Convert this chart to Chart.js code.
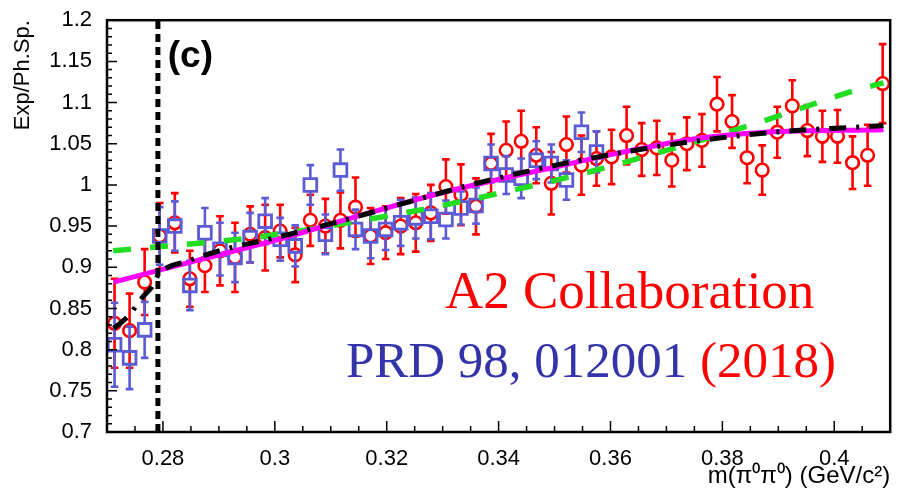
<!DOCTYPE html>
<html>
<head>
<meta charset="utf-8">
<title>Exp/Ph.Sp. vs m(pi0 pi0)</title>
<script src="https://cdn.jsdelivr.net/npm/chart.js@4.4.1/dist/chart.umd.min.js"></script>
<style>
  body { margin: 0; background: #fff; }
  #wrap { width: 902px; height: 493px; }
</style>
</head>
<body>
<div id="wrap"><canvas id="ratioChart" width="902" height="493"></canvas></div>
<script>
// ======================================
// DATA (panel c)
// ======================================
const massBins = [
    0.27135, 0.27404, 0.27673, 0.27942, 0.28212, 0.28481, 0.28750, 0.29019, 0.29288, 0.29558,
    0.29827, 0.30096, 0.30365, 0.30635, 0.30904, 0.31173, 0.31442, 0.31712, 0.31981, 0.32250,
    0.32519, 0.32788, 0.33058, 0.33327, 0.33596, 0.33865, 0.34135, 0.34404, 0.34673, 0.34942,
    0.35212, 0.35481, 0.35750, 0.36019, 0.36288, 0.36558, 0.36827, 0.37096, 0.37365, 0.37635,
    0.37904, 0.38173, 0.38442, 0.38712, 0.38981, 0.39250, 0.39519, 0.39788, 0.40058, 0.40327,
    0.40596, 0.40865
];

// red open circles
const redRatio = [
    0.832, 0.823, 0.882, 0.938, 0.954, 0.886, 0.902, 0.920, 0.912, 0.940,
    0.936, 0.944, 0.915, 0.957, 0.950, 0.957, 0.973, 0.938, 0.942, 0.950,
    0.954, 0.966, 0.998, 0.988, 0.974, 1.026, 1.042, 1.053, 1.036, 1.002,
    1.049, 1.024, 1.032, 1.034, 1.060, 1.043, 1.045, 1.030, 1.050, 1.054,
    1.098, 1.077, 1.033, 1.018, 1.064, 1.096, 1.066, 1.059, 1.059, 1.027,
    1.036, 1.123
];
const redErr = [
    0.054, 0.045, 0.040, 0.040, 0.036, 0.034, 0.032, 0.042, 0.042, 0.034,
    0.040, 0.032, 0.033, 0.031, 0.033, 0.034, 0.036, 0.034, 0.032, 0.034,
    0.035, 0.034, 0.033, 0.037, 0.034, 0.036, 0.035, 0.037, 0.034, 0.038,
    0.034, 0.036, 0.033, 0.033, 0.035, 0.032, 0.033, 0.032, 0.032, 0.032,
    0.033, 0.032, 0.031, 0.030, 0.031, 0.031, 0.031, 0.031, 0.032, 0.032,
    0.037, 0.048
];

// blue open squares (first 33 bins only)
const blueRatio = [
    0.806, 0.790, 0.824, 0.938, 0.950, 0.878, 0.942, 0.922, 0.912, 0.936,
    0.956, 0.934, 0.926, 1.000, 0.940, 1.018, 0.946, 0.938, 0.946, 0.954,
    0.960, 0.962, 0.958, 0.972, 0.975, 1.026, 1.012, 1.008, 1.030, 1.026,
    1.006, 1.064, 1.040
];
const blueErr = [
    0.051, 0.038, 0.034, 0.035, 0.030, 0.030, 0.030, 0.032, 0.030, 0.030,
    0.028, 0.026, 0.025, 0.024, 0.024, 0.025, 0.024, 0.027, 0.025, 0.028,
    0.025, 0.028, 0.023, 0.020, 0.022, 0.023, 0.023, 0.024, 0.023, 0.023,
    0.024, 0.024, 0.025
];

// fit curves
const magentaX = [0.2712, 0.2865, 0.3007, 0.3148, 0.3308, 0.3503, 0.3609, 0.3752, 0.3876, 0.4088];
const magentaY = [0.882, 0.909, 0.934, 0.962, 0.992, 1.022, 1.038, 1.056, 1.064, 1.067];

const blackX = [0.2712, 0.2737, 0.2764, 0.2782, 0.2791, 0.2847, 0.2923, 0.2989, 0.3095, 0.3295,
                0.3361, 0.3503, 0.3609, 0.3738, 0.3893, 0.4088];
const blackY = [0.826, 0.840, 0.864, 0.878, 0.890, 0.908, 0.924, 0.934, 0.952, 0.990,
                1.002, 1.024, 1.038, 1.052, 1.064, 1.072];

const greenX = [0.2711, 0.2985, 0.3095, 0.3255, 0.3428, 0.3552, 0.3680, 0.3857, 0.4034, 0.4088];
const greenY = [0.920, 0.938, 0.950, 0.969, 0.994, 1.014, 1.038, 1.074, 1.114, 1.124];

// pi+ pi- threshold
const thresholdMass = 0.2791;

// axes
const xTickValues = [0.28, 0.30, 0.32, 0.34, 0.36, 0.38, 0.40];
const yTickValues = [0.70, 0.75, 0.80, 0.85, 0.90, 0.95, 1.00, 1.05, 1.10, 1.15, 1.20];
const xRange = [0.27, 0.41];
const yRange = [0.70, 1.20];


// ======================================
// HELPERS
// ======================================
function toPoints(xs, ys) {
    return ys.map((v, i) => ({ x: xs[i], y: v }));
}

function curve(label, xs, ys, color, width, dash, order) {
    return {
        label: label,
        data: toPoints(xs, ys),
        showLine: true,
        borderColor: color,
        borderWidth: width,
        borderDash: dash,
        pointRadius: 0,
        cubicInterpolationMode: "monotone",
        order: order
    };
}


// ======================================
// PLUGINS
// ======================================
// vertical error bars with caps, drawn right before each dataset
const errorBars = {
    id: "errorBars",
    beforeDatasetDraw(chart, args) {
        const ds = chart.data.datasets[args.index];
        if (!ds.errors) return;
        const { ctx, scales: { x, y } } = chart;
        const cap = 3.8;
        const gap = ds.markerGap;

        ctx.save();
        ctx.strokeStyle = ds.borderColor;
        ctx.lineWidth = 2.6;
        ctx.beginPath();
        ds.data.forEach((p, i) => {
            const px = x.getPixelForValue(p.x);
            const py = y.getPixelForValue(p.y);
            const top = y.getPixelForValue(p.y + ds.errors[i]);
            const bot = y.getPixelForValue(p.y - ds.errors[i]);
            ctx.moveTo(px, top); ctx.lineTo(px, py - gap);
            ctx.moveTo(px, py + gap); ctx.lineTo(px, bot);
            ctx.moveTo(px - cap, top); ctx.lineTo(px + cap, top);
            ctx.moveTo(px - cap, bot); ctx.lineTo(px + cap, bot);
        });
        ctx.stroke();
        ctx.restore();
    }
};

// labels inside the frame
const annotations = {
    id: "annotations",
    afterDatasetsDraw(chart) {
        const { ctx, scales: { x, y } } = chart;
        ctx.save();

        ctx.fillStyle = "#000";
        ctx.font = "bold 37px 'Liberation Sans', Arial, sans-serif";
        ctx.textAlign = "center";
        ctx.textBaseline = "middle";
        ctx.fillText("(c)", x.getPixelForValue(0.2849), y.getPixelForValue(1.1556));

        ctx.textAlign = "left";
        ctx.textBaseline = "alphabetic";
        ctx.font = "53px 'Liberation Serif', 'Times New Roman', serif";
        ctx.fillStyle = "#ff0000";
        ctx.fillText("A2 Collaboration", x.getPixelForValue(0.3304), y.getPixelForValue(0.851));

        ctx.font = "51px 'Liberation Serif', 'Times New Roman', serif";
        const px = x.getPixelForValue(0.3127);
        const py = y.getPixelForValue(0.767);
        const first = "PRD 98, 012001 ";
        ctx.fillStyle = "#3333aa";
        ctx.fillText(first, px, py);
        ctx.fillStyle = "#ff0000";
        ctx.fillText("(2018)", px + ctx.measureText(first).width, py);

        ctx.restore();
    }
};

// ROOT style frame with inward ticks
const frameTicks = {
    id: "frameTicks",
    afterDraw(chart) {
        const { ctx, chartArea: a, scales: { x, y } } = chart;
        ctx.save();
        ctx.strokeStyle = "#000";
        ctx.lineWidth = 1.5;
        ctx.beginPath();

        for (let k = 0; k <= 28; k++) {
            const v = xRange[0] + k * 0.005;
            const major = xTickValues.some(t => Math.abs(t - v) < 1e-6);
            const px = x.getPixelForValue(v);
            ctx.moveTo(px, a.bottom);
            ctx.lineTo(px, a.bottom - (major ? 11 : 6));
        }
        for (let k = 0; k <= 50; k++) {
            const v = yRange[0] + k * 0.01;
            const major = yTickValues.some(t => Math.abs(t - v) < 1e-6);
            const py = y.getPixelForValue(v);
            ctx.moveTo(a.left, py);
            ctx.lineTo(a.left + (major ? 10 : 5), py);
        }
        ctx.stroke();

        ctx.lineWidth = 2.5;
        ctx.strokeRect(a.left, a.top, a.right - a.left, a.bottom - a.top);
        ctx.restore();
    }
};


// ======================================
// CHART
// ======================================
const tickFont = { family: "'Liberation Sans', Arial, sans-serif", size: 22 };

new Chart(document.getElementById("ratioChart").getContext("2d"), {
    type: "scatter",
    data: {
        datasets: [
            {
                label: "red",
                data: toPoints(massBins, redRatio),
                errors: redErr,
                markerGap: 6.5,
                borderColor: "#ff0000",
                backgroundColor: "rgba(0,0,0,0)",
                borderWidth: 2.6,
                pointStyle: "circle",
                pointRadius: 6.3,
                order: 6
            },
            {
                label: "blue",
                data: toPoints(massBins.slice(0, blueRatio.length), blueRatio),
                errors: blueErr,
                markerGap: 6.8,
                borderColor: "#5b5bd6",
                backgroundColor: "rgba(0,0,0,0)",
                borderWidth: 2.8,
                pointStyle: "rect",
                pointRadius: 9,
                order: 5
            },
            curve("green", greenX, greenY, "#22dd22", 5.5, [18, 19], 4),
            curve("magenta", magentaX, magentaY, "#ff00ff", 5, [], 3),
            curve("black", blackX, blackY, "#000000", 5, [17, 10, 3, 10], 2),
            {
                label: "threshold",
                data: [{ x: thresholdMass, y: yRange[0] }, { x: thresholdMass, y: yRange[1] }],
                showLine: true,
                borderColor: "#000000",
                borderWidth: 5,
                borderDash: [8, 5],
                pointRadius: 0,
                order: 1
            }
        ]
    },
    options: {
        responsive: false,
        animation: false,
        layout: { padding: { left: 0, right: 5, top: 14, bottom: 0 } },
        plugins: {
            legend: { display: false },
            tooltip: { enabled: false }
        },
        scales: {
            x: {
                type: "linear",
                min: xRange[0],
                max: xRange[1],
                grid: { display: false },
                border: { display: false },
                afterBuildTicks: s => { s.ticks = xTickValues.map(v => ({ value: v })); },
                afterFit: s => { s.height = 61; },
                ticks: {
                    padding: 6,
                    maxRotation: 0,
                    color: "#000",
                    font: tickFont,
                    callback: v => String(+v.toFixed(3))
                },
                title: {
                    display: true,
                    text: "m(π⁰π⁰) (GeV/c²)",
                    align: "end",
                    color: "#000",
                    font: { family: "'Liberation Sans', Arial, sans-serif", size: 24 },
                    padding: { top: 0, bottom: 2 }
                }
            },
            y: {
                type: "linear",
                min: yRange[0],
                max: yRange[1],
                grid: { display: false },
                border: { display: false },
                afterBuildTicks: s => { s.ticks = yTickValues.map(v => ({ value: v })); },
                afterFit: s => { s.width = 107; },
                ticks: {
                    padding: 7,
                    color: "#000",
                    font: tickFont,
                    callback: v => String(+v.toFixed(3))
                },
                title: {
                    display: true,
                    text: "Exp/Ph.Sp.",
                    align: "end",
                    color: "#000",
                    font: { family: "'Liberation Sans', Arial, sans-serif", size: 22 },
                    padding: { top: 10, bottom: 0 }
                }
            }
        }
    },
    plugins: [errorBars, annotations, frameTicks]
});
</script>
</body>
</html>
